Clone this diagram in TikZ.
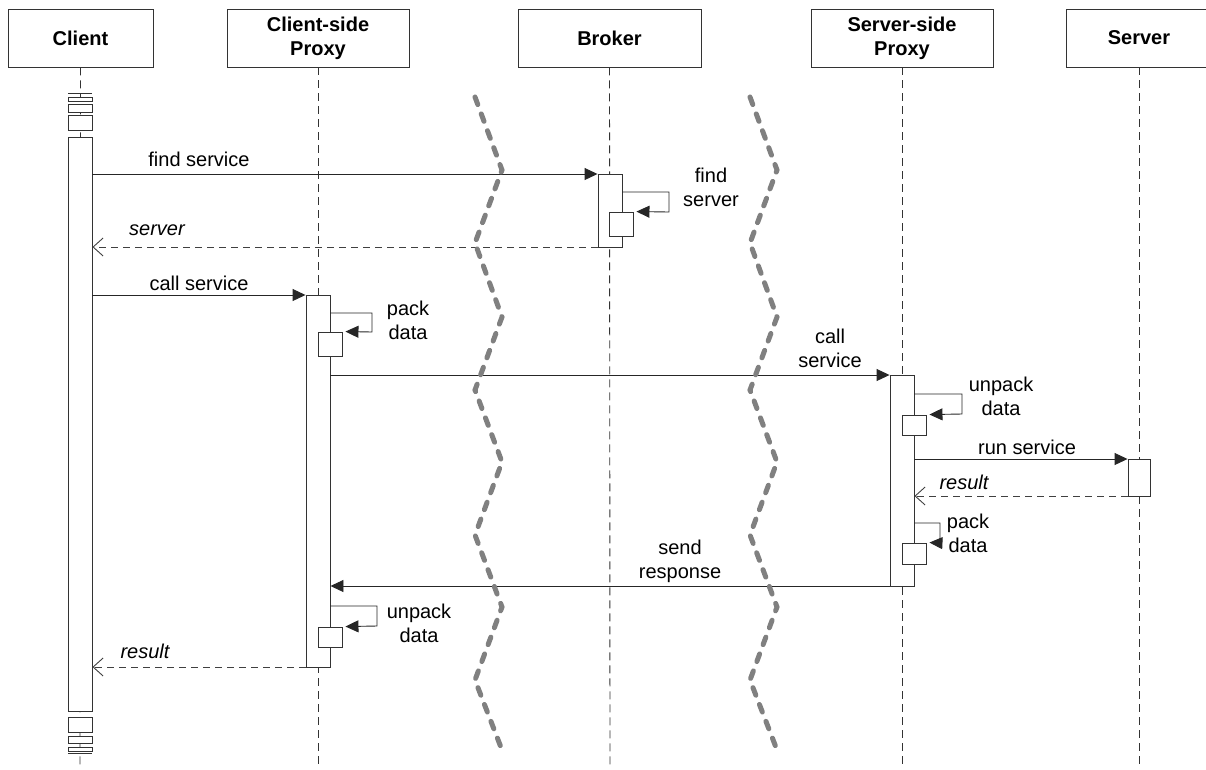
\documentclass[tikz,border=0pt]{standalone}
\usepackage{fontspec}
\setmainfont{Liberation Sans}
\usetikzlibrary{arrows.meta}
\begin{document}
\begin{tikzpicture}[x=1pt,y=-1pt,
  hdr/.style={draw=black!80, line width=0.9pt, minimum height=58pt, align=center,
    font=\fontsize{20}{24}\selectfont\bfseries, inner sep=0pt},
  life/.style={draw=black!80, line width=0.9pt, dash pattern=on 8pt off 5pt},
  bar/.style={draw=black!80, fill=white, line width=0.9pt, minimum width=24pt, inner sep=0pt},
  sync/.style={draw=black!85, line width=0.9pt, -{Triangle[length=13pt,width=12pt]}},
  ret/.style={draw=black!75, line width=0.9pt, dash pattern=on 7pt off 5pt,
    -{Straight Barb[length=10pt,width=18pt,line width=0.9pt]}},
  lbl/.style={font=\fontsize{20}{24}\selectfont, align=center, inner sep=0pt},
  ilbl/.style={lbl, font=\fontsize{20}{24}\selectfont\itshape},
  zz/.style={draw=black!50, line width=5pt, line cap=round, dash pattern=on 8pt off 10pt}]
\useasboundingbox (0,0) rectangle (1206,769);

% headers
\node[hdr, minimum width=145pt] (client) at (80.5,38) {Client};
\node[hdr, minimum width=182pt] (cproxy) at (318,38) {Client-side\\Proxy};
\node[hdr, minimum width=183pt] (broker) at (609.5,38) {Broker};
\node[hdr, minimum width=182pt] (sproxy) at (902,38) {Server-side\\Proxy};
\node[hdr, minimum width=146pt] (server) at (1139,38) {Server};

% lifeline ends
\coordinate (cEnd) at (80,769);
\coordinate (pEnd) at (318,769);
\coordinate (bEnd) at (610,769);
\coordinate (sEnd) at (902,769);
\coordinate (vEnd) at (1139,769);
\draw[life] (client.south) -- (cEnd);
\draw[life] (cproxy.south) -- (pEnd);
\draw[life] (broker.south) -- (bEnd);
\draw[life] (sproxy.south) -- (sEnd);
\draw[life] (server.south) -- (vEnd);

% client lifeline stack decorations
\coordinate (t0) at (80,93);
\draw[draw=black!80, line width=0.9pt] ([xshift=-12pt]t0) -- ([xshift=12pt]t0);
\node[bar, minimum height=4pt] (ct1) at (80,99) {};
\node[bar, minimum height=8pt] (ct2) at (80,108) {};
\node[bar, minimum height=15pt] (ct3) at (80,122.5) {};
\node[bar, minimum height=574pt] (cbar) at (80,424) {};
\node[bar, minimum height=15pt] (cb1) at (80,724.5) {};
\node[bar, minimum height=7pt] (cb2) at (80,739.5) {};
\node[bar, minimum height=4pt] (cb3) at (80,749) {};
\coordinate (b0) at (80,753);
\draw[draw=black!80, line width=0.9pt] ([xshift=-12pt]b0) -- ([xshift=12pt]b0);

% activation bars
\node[bar, minimum height=73pt] (bbar) at (610,210.5) {};
\node[bar, minimum height=24pt] (bn) at (621,224) {};
\node[bar, minimum height=372pt] (pbar) at (318,481) {};
\node[bar, minimum height=24pt] (pn1) at (330,344) {};
\node[bar, minimum height=20pt] (pn2) at (330,637) {};
\node[bar, minimum height=211pt] (sbar) at (902,480.5) {};
\node[bar, minimum height=20pt] (sn1) at (914,425) {};
\node[bar, minimum height=21pt] (sn2) at (914,553.5) {};
\node[bar, minimum width=22pt, minimum height=37pt] (vbar) at (1139,477.5) {};

% message levels
\coordinate (m1) at (0,174);
\coordinate (m2) at (0,247);
\coordinate (m3) at (0,295);
\coordinate (m4) at (0,375);
\coordinate (m5) at (0,459);
\coordinate (m6) at (0,496);
\coordinate (m7) at (0,586);
\coordinate (m8) at (0,667);

% messages
\draw[sync] (cbar.east |- m1) -- (bbar.west |- m1);
\node[lbl] (l1) at (199,159) {find service};

\draw[sync] (bbar.east |- 0,192) -- (669,192) -- (669,212) -- ([xshift=3pt]bn.north east);
\node[lbl] (l2) at (711,187) {find\\server};

\draw[ret] (bbar.west |- m2) -- (cbar.east |- m2);
\node[ilbl] (l3) at (157,230) {server};

\draw[sync] (cbar.east |- m3) -- (pbar.west |- m3);
\node[lbl] (l4) at (199,283) {call service};

\draw[sync] (pbar.east |- 0,313) -- (372,313) -- (372,332) -- ([xshift=3pt]pn1.north east);
\node[lbl] (l5) at (408,320) {pack\\data};

\draw[sync] (pbar.east |- m4) -- (sbar.west |- m4);
\node[lbl] (l6) at (830,348) {call\\service};

\draw[sync] (sbar.east |- 0,394) -- (962,394) -- (962,414) -- ([xshift=3pt]sn1.north east);
\node[lbl] (l7) at (1001,396) {unpack\\data};

\draw[sync] (sbar.east |- m5) -- (vbar.west |- m5);
\node[lbl] (l8) at (1027,447) {run service};

\draw[ret] (vbar.west |- m6) -- (sbar.east |- m6);
\node[ilbl] (l9) at (964,482) {result};

\draw[sync] (sbar.east |- 0,523) -- (940,523) -- (940,543) -- ([xshift=3pt]sn2.north east);
\node[lbl] (l10) at (968,533) {pack\\data};

\draw[sync] (sbar.west |- m7) -- (pbar.east |- m7);
\node[lbl] (l11) at (680,561) {send\\response};

\draw[sync] (pbar.east |- 0,606) -- (377,606) -- (377,626) -- ([xshift=3pt]pn2.north east);
\node[lbl] (l12) at (419,623) {unpack\\data};

\draw[ret] (pbar.west |- m8) -- (cbar.east |- m8);
\node[ilbl] (l13) at (145,651) {result};

% network boundaries (zigzags)
\draw[zz] (475,97) -- (502,170) -- (475,243) -- (502,317) -- (475,390) -- (502,462)
  -- (475,535) -- (502,607) -- (475,680) -- (502,750);
\draw[zz] (750,97) -- (777,170) -- (750,243) -- (777,317) -- (750,390) -- (777,462)
  -- (750,535) -- (777,607) -- (750,680) -- (777,750);
\end{tikzpicture}
\end{document}
